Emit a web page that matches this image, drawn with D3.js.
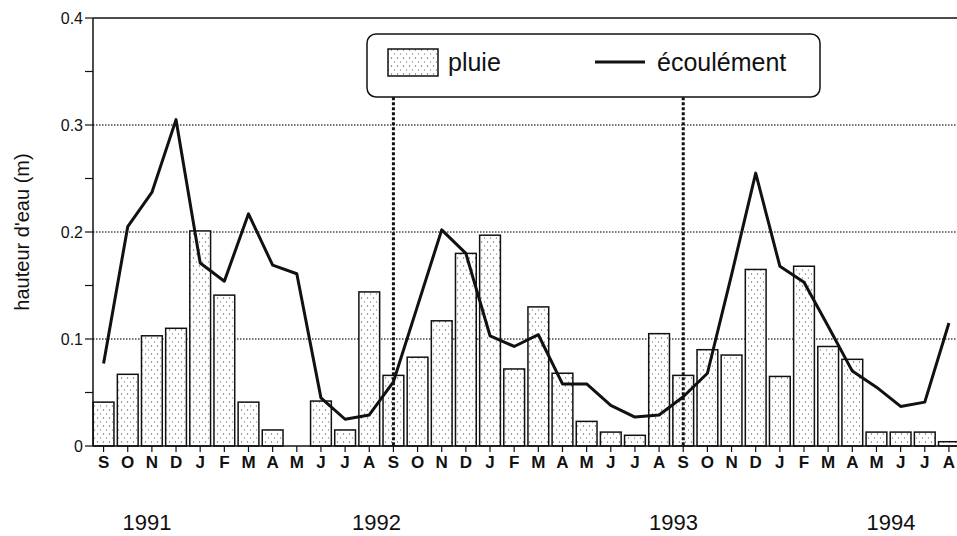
<!DOCTYPE html>
<html>
<head>
<meta charset="utf-8">
<script src="https://cdn.jsdelivr.net/npm/d3@7"></script>
<style>
  body { margin: 0; background: #fff; }
  text { font-family: "Liberation Sans", Arial, sans-serif; fill: #111; }
</style>
</head>
<body>
<svg id="chart" width="957" height="536"></svg>
<script>
// months Sept 1991 -> Aug 1994
const months = ["S","O","N","D","J","F","M","A","M","J","J","A",
                "S","O","N","D","J","F","M","A","M","J","J","A",
                "S","O","N","D","J","F","M","A","M","J","J","A"]
// pluie (m)
const pluie = [0.041, 0.067, 0.103, 0.110, 0.201, 0.141, 0.041, 0.015, 0, 0.042, 0.015, 0.144,
               0.066, 0.083, 0.117, 0.180, 0.197, 0.072, 0.130, 0.068, 0.023, 0.013, 0.010, 0.105,
               0.066, 0.090, 0.085, 0.165, 0.065, 0.168, 0.093, 0.081, 0.013, 0.013, 0.013, 0.004]
// ecoulement (m)
const ecoul = [0.077, 0.205, 0.237, 0.305, 0.171, 0.154, 0.217, 0.169, 0.161, 0.045, 0.025, 0.029,
               0.060, 0.131, 0.202, 0.180, 0.103, 0.093, 0.104, 0.058, 0.058, 0.038, 0.027, 0.029,
               0.046, 0.068, 0.160, 0.255, 0.168, 0.153, 0.112, 0.070, 0.055, 0.037, 0.041, 0.115]
const yTicks = [0, 0.1, 0.2, 0.3, 0.4]
const yMinor = [0.05, 0.15, 0.25, 0.35]
const years = ["1991", "1992", "1993", "1994"]
const yearPos = [1.8, 11.3, 23.6, 32.6]   // position in months
const seasonBreaks = [12, 24]

const svg = d3.select("#chart")
const x = d3.scaleBand().domain(d3.range(months.length)).range([91.5, 961]).paddingInner(0.14).paddingOuter(0.07)
const y = d3.scaleLinear().domain([0, 0.4]).range([446, 18])
const cx = i => x(i) + x.bandwidth() / 2
const xi = d3.scaleLinear().domain([0, months.length - 1]).range([cx(0), cx(months.length - 1)])
const left = 93

// dot pattern for the bars
const defs = svg.append("defs")
const pat = defs.append("pattern").attr("id", "dots").attr("patternUnits", "userSpaceOnUse")
  .attr("width", 6).attr("height", 8)
pat.append("rect").attr("width", 6).attr("height", 8).attr("fill", "#fff")
pat.append("circle").attr("cx", 1.5).attr("cy", 2).attr("r", 0.7).attr("fill", "#666")
pat.append("circle").attr("cx", 4.5).attr("cy", 6).attr("r", 0.7).attr("fill", "#888")

// grid
svg.append("g").selectAll("line").data([0.1, 0.2, 0.3]).enter().append("line")
  .attr("x1", left).attr("x2", 957)
  .attr("y1", d => y(d)).attr("y2", d => y(d))
  .attr("stroke", "#444").attr("stroke-width", 1.3).attr("stroke-dasharray", "1.5,1.5")

// bars
svg.append("g").selectAll("rect").data(pluie.map((v, i) => ({v, i})).filter(d => d.v > 0)).enter()
  .append("rect")
  .attr("x", d => x(d.i))
  .attr("y", d => y(d.v))
  .attr("width", x.bandwidth())
  .attr("height", d => y(0) - y(d.v))
  .attr("fill", "url(#dots)").attr("stroke", "#111").attr("stroke-width", 1.5)

// season breaks
svg.append("g").selectAll("line").data(seasonBreaks).enter().append("line")
  .attr("x1", d => cx(d)).attr("x2", d => cx(d))
  .attr("y1", y(0.326)).attr("y2", y(0))
  .attr("stroke", "#111").attr("stroke-width", 3).attr("stroke-dasharray", "3,2")

// ecoulement line
svg.append("path").datum(ecoul)
  .attr("d", d3.line().x((d, i) => cx(i)).y(d => y(d)))
  .attr("fill", "none").attr("stroke", "#111").attr("stroke-width", 3).attr("stroke-linejoin", "round")

// frame / axes
svg.append("line").attr("x1", left).attr("x2", 957).attr("y1", y(0.4)).attr("y2", y(0.4))
  .attr("stroke", "#111").attr("stroke-width", 1.5)
svg.append("line").attr("x1", left).attr("x2", 957).attr("y1", y(0)).attr("y2", y(0))
  .attr("stroke", "#111").attr("stroke-width", 1.5)
svg.append("line").attr("x1", left).attr("x2", left).attr("y1", y(0.4)).attr("y2", y(0))
  .attr("stroke", "#111").attr("stroke-width", 1.5)

// y ticks
svg.append("g").selectAll("line").data(yTicks.concat(yMinor)).enter().append("line")
  .attr("x1", left - 8).attr("x2", left)
  .attr("y1", d => y(d)).attr("y2", d => y(d))
  .attr("stroke", "#111").attr("stroke-width", 1.2)
svg.append("g").selectAll("text").data(yTicks).enter().append("text")
  .attr("x", left - 10).attr("y", d => y(d) + 5.5)
  .attr("text-anchor", "end").attr("font-size", 16)
  .text(d => d === 0 ? "0" : d3.format(".1f")(d))

// x ticks and month labels
svg.append("g").selectAll("line").data(months).enter().append("line")
  .attr("x1", (d, i) => cx(i)).attr("x2", (d, i) => cx(i))
  .attr("y1", y(0)).attr("y2", y(0) + 6)
  .attr("stroke", "#111").attr("stroke-width", 1.2)
svg.append("g").selectAll("text").data(months).enter().append("text")
  .attr("x", (d, i) => cx(i)).attr("y", 468)
  .attr("text-anchor", "middle").attr("font-size", 17).attr("font-weight", "bold")
  .text(d => d)

// years
svg.append("g").selectAll("text").data(years).enter().append("text")
  .attr("x", (d, i) => xi(yearPos[i])).attr("y", 530)
  .attr("text-anchor", "middle").attr("font-size", 22)
  .text(d => d)

// y title
svg.append("text")
  .attr("transform", "translate(29," + y(0.2) + ") rotate(-90)")
  .attr("text-anchor", "middle").attr("font-size", 20)
  .text("hauteur d'eau (m)")

// legend
const lg = svg.append("g")
lg.append("rect").attr("x", 367).attr("y", 34).attr("width", 453).attr("height", 63).attr("rx", 9)
  .attr("fill", "#fff").attr("stroke", "#111").attr("stroke-width", 1.5)
lg.append("rect").attr("x", 388).attr("y", 49).attr("width", 50).attr("height", 27)
  .attr("fill", "url(#dots)").attr("stroke", "#111").attr("stroke-width", 1.5)
lg.append("text").attr("x", 448).attr("y", 71).attr("font-size", 25).text("pluie")
lg.append("line").attr("x1", 595).attr("x2", 645).attr("y1", 62).attr("y2", 62)
  .attr("stroke", "#111").attr("stroke-width", 3)
lg.append("text").attr("x", 657).attr("y", 71).attr("font-size", 25).text("écoulément")
</script>
</body>
</html>
